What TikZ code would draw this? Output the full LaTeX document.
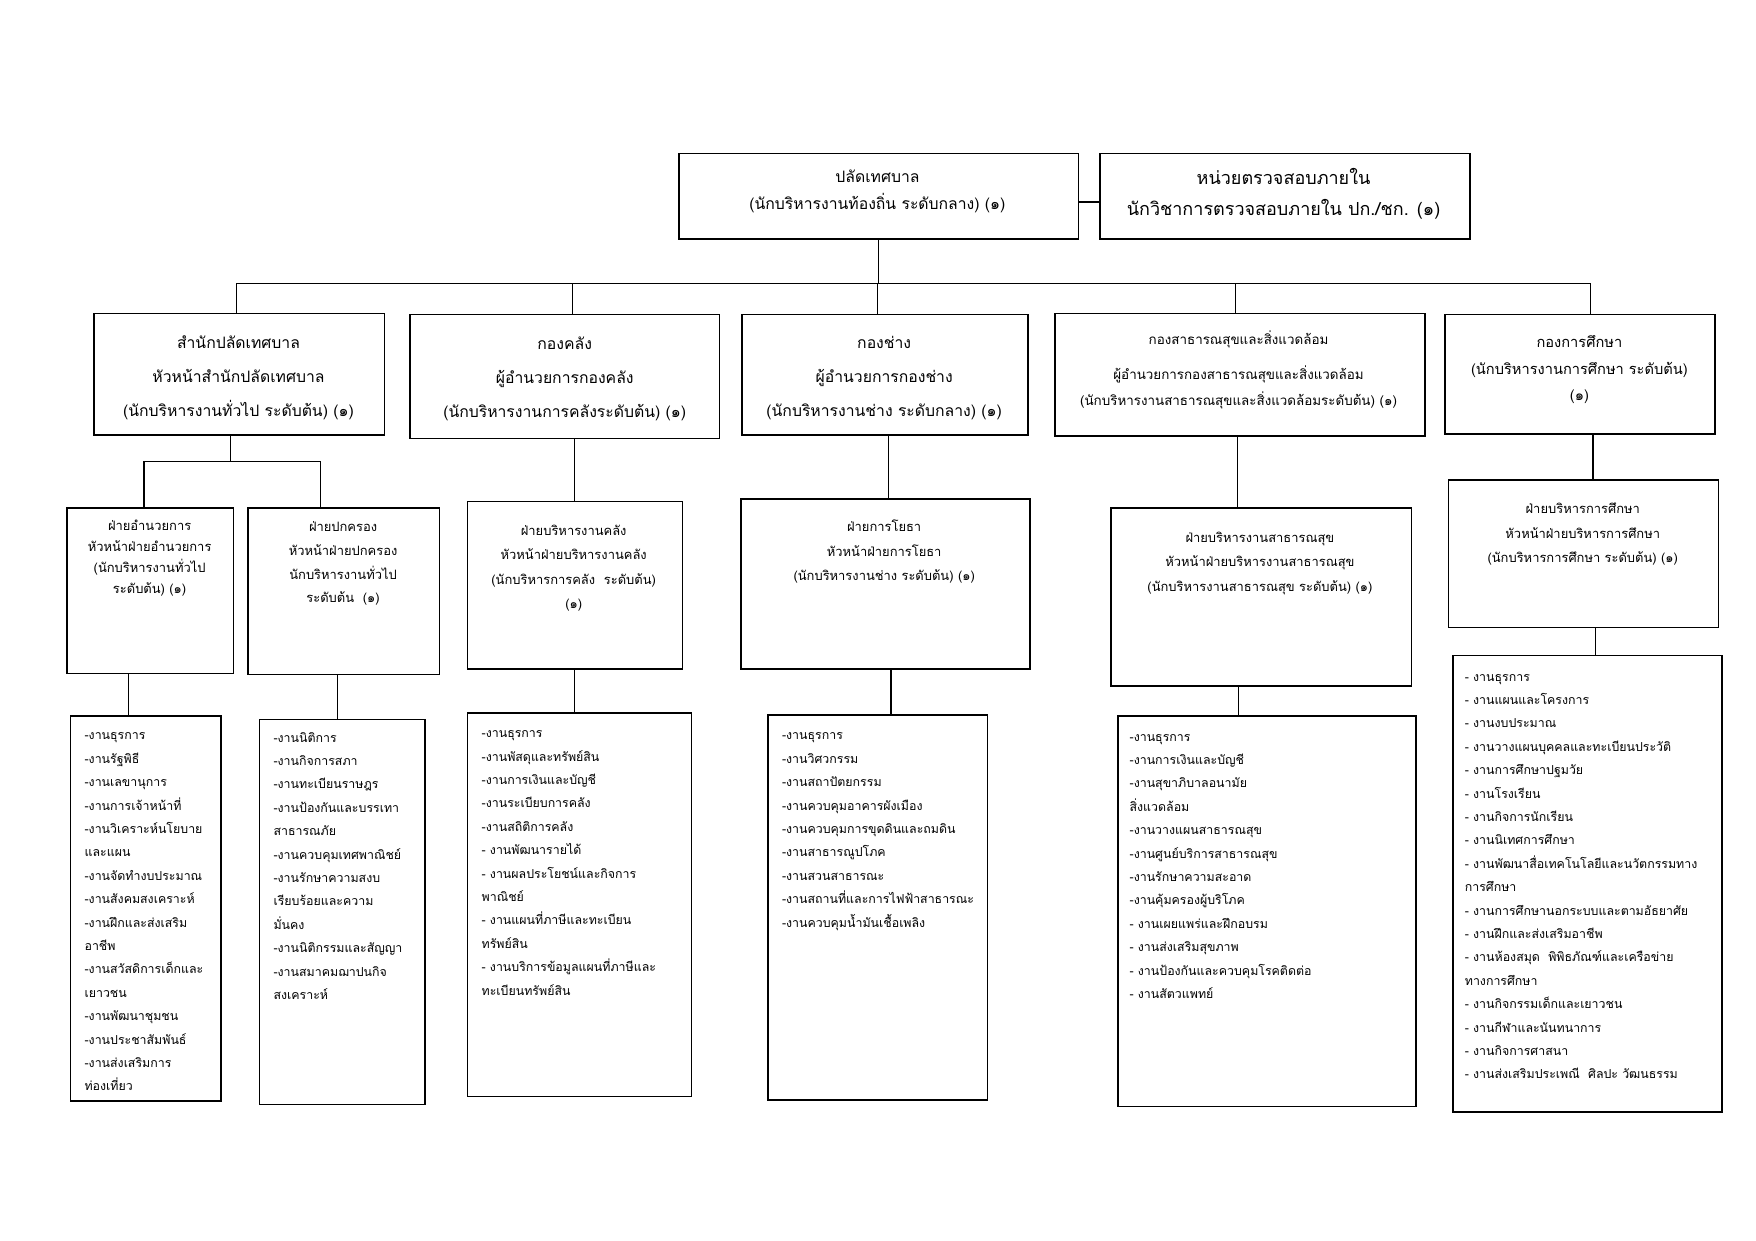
\documentclass[tikz,border=0pt]{standalone}
\usepackage{fontspec}
\newfontfamily\thaifont[Script=Thai]{Loma}
\newcommand\fTop{\thaifont\fontsize{14}{24}\selectfont}
\newcommand\fAud{\thaifont\fontsize{16}{28}\selectfont}
\newcommand\fB{\thaifont\fontsize{14}{30.5}\selectfont}
\newcommand\fBs{\thaifont\fontsize{11.9}{23}\selectfont}
\newcommand\fBf{\thaifont\fontsize{13}{23.5}\selectfont}
\newcommand\fCa{\thaifont\fontsize{11.5}{18.5}\selectfont}
\newcommand\fCb{\thaifont\fontsize{11.5}{21}\selectfont}
\newcommand\fC{\thaifont\fontsize{11.5}{21.8}\selectfont}
\newcommand\fD{\thaifont\fontsize{11}{20.8}\selectfont}
\tikzset{
  box/.style={draw, line width=1.3pt, inner sep=0pt, anchor=north west},
  conn/.style={line width=1.1pt},
  ctr/.style={anchor=north, align=center, inner sep=0pt},
  lft/.style={anchor=north west, align=left, inner sep=0pt},
}
\begin{document}
\begin{tikzpicture}[x=1pt,y=-1pt]
\fill[white] (0,0) rectangle (1561,1103);
\useasboundingbox (0,0) rectangle (1561,1103);

% ---- boxes ----
\node[box, minimum width=355pt, minimum height=76pt] (top) at (603,136) {};
\node[box, minimum width=329pt, minimum height=76pt] (aud) at (977,136) {};
\node[box, minimum width=258pt, minimum height=108pt] (b1) at (83,278) {};
\node[box, minimum width=275pt, minimum height=110pt] (b2) at (364,279) {};
\node[box, minimum width=254pt, minimum height=107pt] (b3) at (659,279) {};
\node[box, minimum width=329pt, minimum height=109pt] (b4) at (937,278) {};
\node[box, minimum width=240pt, minimum height=106pt] (b5) at (1284,279) {};
\node[box, minimum width=148pt, minimum height=147pt] (c1) at (59,451) {};
\node[box, minimum width=170pt, minimum height=148pt] (c2) at (220,451) {};
\node[box, minimum width=191pt, minimum height=149pt] (c3) at (415,445) {};
\node[box, minimum width=257pt, minimum height=151pt] (c4) at (658,443) {};
\node[box, minimum width=267pt, minimum height=158pt] (c5) at (987,451) {};
\node[box, minimum width=240pt, minimum height=131pt] (c6) at (1287,426) {};
\node[box, minimum width=134pt, minimum height=342pt] (d1) at (62,636) {};
\node[box, minimum width=147pt, minimum height=342pt] (d2) at (230,639) {};
\node[box, minimum width=199pt, minimum height=341pt] (d3) at (415,633) {};
\node[box, minimum width=195pt, minimum height=342pt] (d4) at (682,635) {};
\node[box, minimum width=265pt, minimum height=347pt] (d5) at (993,636) {};
\node[box, minimum width=239pt, minimum height=406pt] (d6) at (1291,582) {};

% ---- texts ----
\node[ctr, font=\fTop] (topT) at (780,145.4) {\strut ปลัดเทศบาล\\(นักบริหารงานท้องถิ่น ระดับกลาง) (๑)};
\node[ctr, font=\fAud] (audT) at (1141,144.2) {\strut หน่วยตรวจสอบภายใน\\นักวิชาการตรวจสอบภายใน ปก./ชก. (๑)};
\node[ctr, font=\fB] (b1T) at (212,287.9) {\strut สำนักปลัดเทศบาล\\หัวหน้าสำนักปลัดเทศบาล\\(นักบริหารงานทั่วไป ระดับต้น) (๑)};
\node[ctr, font=\fB] (b2T) at (502,288.9) {\strut กองคลัง\\ผู้อำนวยการกองคลัง\\(นักบริหารงานการคลังระดับต้น) (๑)};
\node[ctr, font=\fB] (b3T) at (786,287.9) {\strut กองช่าง\\ผู้อำนวยการกองช่าง\\(นักบริหารงานช่าง ระดับกลาง) (๑)};
\node[ctr, font=\fBs] (b4T) at (1101,289.8) {\strut กองสาธารณสุขและสิ่งแวดล้อม\\[8pt]ผู้อำนวยการกองสาธารณสุขและสิ่งแวดล้อม\\(นักบริหารงานสาธารณสุขและสิ่งแวดล้อมระดับต้น) (๑)};
\node[ctr, font=\fBf] (b5T) at (1404,292.5) {\strut กองการศึกษา\\(นักบริหารงานการศึกษา ระดับต้น)\\(๑)};
\node[ctr, font=\fCa] (c1T) at (133,458.5) {\strut ฝ่ายอำนวยการ\\หัวหน้าฝ่ายอำนวยการ\\(นักบริหารงานทั่วไป\\ระดับต้น) (๑)};
\node[ctr, font=\fCb] (c2T) at (305,457.8) {\strut ฝ่ายปกครอง\\หัวหน้าฝ่ายปกครอง\\นักบริหารงานทั่วไป\\ระดับต้น~~(๑)};
\node[ctr, font=\fC] (c3T) at (510,460.4) {\strut ฝ่ายบริหารงานคลัง\\หัวหน้าฝ่ายบริหารงานคลัง\\(นักบริหารการคลัง~~ระดับต้น)\\(๑)};
\node[ctr, font=\fC] (c4T) at (786,457) {\strut ฝ่ายการโยธา\\หัวหน้าฝ่ายการโยธา\\(นักบริหารงานช่าง ระดับต้น) (๑)};
\node[ctr, font=\fC] (c5T) at (1120,466.4) {\strut ฝ่ายบริหารงานสาธารณสุข\\หัวหน้าฝ่ายบริหารงานสาธารณสุข\\(นักบริหารงานสาธารณสุข ระดับต้น) (๑)};
\node[ctr, font=\fC] (c6T) at (1407,441) {\strut ฝ่ายบริหารการศึกษา\\หัวหน้าฝ่ายบริหารการศึกษา\\(นักบริหารการศึกษา ระดับต้น) (๑)};

\node[lft, font=\fD] (d1T) at (75,643) {\strut -งานธุรการ\\-งานรัฐพิธี\\-งานเลขานุการ\\-งานการเจ้าหน้าที่\\-งานวิเคราะห์นโยบาย\\และแผน\\-งานจัดทำงบประมาณ\\-งานสังคมสงเคราะห์\\-งานฝึกและส่งเสริม\\อาชีพ\\-งานสวัสดิการเด็กและ\\เยาวชน\\-งานพัฒนาชุมชน\\-งานประชาสัมพันธ์\\-งานส่งเสริมการ\\ท่องเที่ยว};
\node[lft, font=\fD] (d2T) at (243,645) {\strut -งานนิติการ\\-งานกิจการสภา\\-งานทะเบียนราษฎร\\-งานป้องกันและบรรเทา\\สาธารณภัย\\-งานควบคุมเทศพาณิชย์\\-งานรักษาความสงบ\\เรียบร้อยและความ\\มั่นคง\\-งานนิติกรรมและสัญญา\\-งานสมาคมฌาปนกิจ\\สงเคราะห์};
\node[lft, font=\fD] (d3T) at (428,641) {\strut -งานธุรการ\\-งานพัสดุและทรัพย์สิน\\-งานการเงินและบัญชี\\-งานระเบียบการคลัง\\-งานสถิติการคลัง\\- งานพัฒนารายได้\\- งานผลประโยชน์และกิจการ\\พาณิชย์\\- งานแผนที่ภาษีและทะเบียน\\ทรัพย์สิน\\- งานบริการข้อมูลแผนที่ภาษีและ\\ทะเบียนทรัพย์สิน};
\node[lft, font=\fD] (d4T) at (695,643) {\strut -งานธุรการ\\-งานวิศวกรรม\\-งานสถาปัตยกรรม\\-งานควบคุมอาคารผังเมือง\\-งานควบคุมการขุดดินและถมดิน\\-งานสาธารณูปโภค\\-งานสวนสาธารณะ\\-งานสถานที่และการไฟฟ้าสาธารณะ\\-งานควบคุมน้ำมันเชื้อเพลิง};
\node[lft, font=\fD] (d5T) at (1004,644) {\strut -งานธุรการ\\-งานการเงินและบัญชี\\-งานสุขาภิบาลอนามัย\\สิ่งแวดล้อม\\-งานวางแผนสาธารณสุข\\-งานศูนย์บริการสาธารณสุข\\-งานรักษาความสะอาด\\-งานคุ้มครองผู้บริโภค\\- งานเผยแพร่และฝึกอบรม\\- งานส่งเสริมสุขภาพ\\- งานป้องกันและควบคุมโรคติดต่อ\\- งานสัตวแพทย์};
\node[lft, font=\fD] (d6T) at (1302,590.7) {\strut - งานธุรการ\\- งานแผนและโครงการ\\- งานงบประมาณ\\- งานวางแผนบุคคลและทะเบียนประวัติ\\- งานการศึกษาปฐมวัย\\- งานโรงเรียน\\- งานกิจการนักเรียน\\- งานนิเทศการศึกษา\\- งานพัฒนาสื่อเทคโนโลยีและนวัตกรรมทาง\\การศึกษา\\- งานการศึกษานอกระบบและตามอัธยาศัย\\- งานฝึกและส่งเสริมอาชีพ\\- งานห้องสมุด~~พิพิธภัณฑ์และเครือข่าย\\ทางการศึกษา\\- งานกิจกรรมเด็กและเยาวชน\\- งานกีฬาและนันทนาการ\\- งานกิจการศาสนา\\- งานส่งเสริมประเพณี~~ศิลปะ วัฒนธรรม};

% ---- connectors ----
\coordinate (bus) at (780,252);
\coordinate (x1) at (210,0);
\coordinate (x2) at (509,0);
\coordinate (x3) at (780,0);
\coordinate (x4) at (1098,0);
\coordinate (x5) at (1414,0);
\draw[conn] (top.south) -- (top.south |- bus);
\draw[conn] (x1 |- b1.north) -- (x1 |- bus) -- (x5 |- bus) -- (x5 |- b5.north);
\draw[conn] (x2 |- bus) -- (x2 |- b2.north);
\draw[conn] (x3 |- bus) -- (x3 |- b3.north);
\draw[conn] (x4 |- bus) -- (x4 |- b4.north);
\draw[conn] ([yshift=-5pt]top.east) -- ([yshift=-5pt]aud.west);

\coordinate (s1) at (205,410);
\coordinate (s1a) at (128,410);
\coordinate (s1b) at (285,410);
\draw[conn] (s1 |- b1.south) -- (s1);
\draw[conn] (s1a |- c1.north) -- (s1a) -- (s1b) -- (s1b |- c2.north);
\coordinate (v2) at (511,0);
\coordinate (v3) at (790,0);
\coordinate (v4) at (1100,0);
\coordinate (v5) at (1416,0);
\draw[conn] (v2 |- b2.south) -- (v2 |- c3.north);
\draw[conn] (v3 |- b3.south) -- (v3 |- c4.north);
\draw[conn] (v4 |- b4.south) -- (v4 |- c5.north);
\draw[conn] (v5 |- b5.south) -- (v5 |- c6.north);

\coordinate (w1) at (114,0);
\coordinate (w2) at (300,0);
\coordinate (w3) at (511,0);
\coordinate (w4) at (792,0);
\coordinate (w5) at (1101,0);
\coordinate (w6) at (1418,0);
\draw[conn] (w1 |- c1.south) -- (w1 |- d1.north);
\draw[conn] (w2 |- c2.south) -- (w2 |- d2.north);
\draw[conn] (w3 |- c3.south) -- (w3 |- d3.north);
\draw[conn] (w4 |- c4.south) -- (w4 |- d4.north);
\draw[conn] (w5 |- c5.south) -- (w5 |- d5.north);
\draw[conn] (w6 |- c6.south) -- (w6 |- d6.north);
\end{tikzpicture}
\end{document}
